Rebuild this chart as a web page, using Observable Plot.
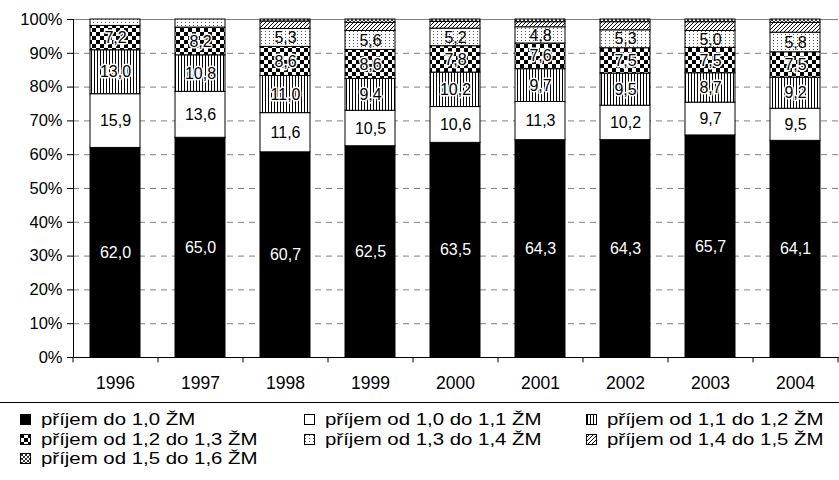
<!DOCTYPE html>
<html>
<head>
<meta charset="utf-8">
<script src="https://cdn.jsdelivr.net/npm/d3@7"></script>
<script src="https://cdn.jsdelivr.net/npm/@observablehq/plot@0.6"></script>
<style>
  body { margin: 0; background: white; font-family: "Liberation Sans", Arial, sans-serif; }
  #chart svg { display: block; }
  #legend { border-top: 1px solid black; width: 839px; height: 76px; position: relative; font-size: 17px; color: black; }
  .item { position: absolute; white-space: nowrap; line-height: 19.5px; height: 19.5px; display: flex; align-items: center; }
  .item svg { margin-right: 10px; flex: none; }
  .item span { display: inline-block; transform: scaleX(1.2); transform-origin: left center; }
</style>
</head>
<body>
<svg width="0" height="0" style="position:absolute">
  <defs>
    <pattern id="p_black" width="4" height="4" patternUnits="userSpaceOnUse"><rect width="4" height="4" fill="black"/></pattern>
    <pattern id="p_white" width="4" height="4" patternUnits="userSpaceOnUse"><rect width="4" height="4" fill="white"/></pattern>
    <pattern id="p_vert" width="3" height="3" patternUnits="userSpaceOnUse"><rect width="3" height="3" fill="white"/><rect x="1" width="1" height="3" fill="black"/></pattern>
    <pattern id="p_check" width="8" height="8" patternUnits="userSpaceOnUse"><rect width="8" height="8" fill="white"/><rect width="4" height="4" fill="black"/><rect x="4" y="4" width="4" height="4" fill="black"/></pattern>
    <pattern id="p_dot" width="4" height="3" patternUnits="userSpaceOnUse"><rect width="4" height="3" fill="white"/><rect x="1" y="1" width="1" height="1" fill="#555"/></pattern>
    <pattern id="p_hatch" width="4" height="4" patternUnits="userSpaceOnUse"><rect width="4" height="4" fill="white"/><path d="M-1,1 l2,-2 M0,4 l4,-4 M3,5 l2,-2" stroke="black" stroke-width="1"/></pattern>
    <pattern id="p_cross" width="4" height="4" patternUnits="userSpaceOnUse"><rect width="4" height="4" fill="white"/><path d="M-1,1 l2,-2 M0,4 l4,-4 M3,5 l2,-2 M-1,3 l2,2 M0,0 l4,4 M3,-1 l2,2" stroke="black" stroke-width="0.8"/></pattern>
  </defs>
</svg>
<div id="chart"></div>
<div id="legend"></div>
<script>
const years = ["1996","1997","1998","1999","2000","2001","2002","2003","2004"];
const seriesNames = [
  "příjem do 1,0 ŽM",
  "příjem od 1,0 do 1,1 ŽM",
  "příjem od 1,1 do 1,2 ŽM",
  "příjem od 1,2 do 1,3 ŽM",
  "příjem od 1,3 do 1,4 ŽM",
  "příjem od 1,4 do 1,5 ŽM",
  "příjem od 1,5 do 1,6 ŽM"
];
const s1 = [62.0, 65.0, 60.7, 62.5, 63.5, 64.3, 64.3, 65.7, 64.1];
const s2 = [15.9, 13.6, 11.6, 10.5, 10.6, 11.3, 10.2, 9.7, 9.5];
const s3 = [13.0, 10.8, 11.0, 9.4, 10.2, 9.7, 9.5, 8.7, 9.2];
const s4 = [7.2, 8.2, 8.6, 8.6, 7.8, 7.6, 7.5, 7.5, 7.5];
const s5 = [1.9, 2.4, 5.3, 5.6, 5.2, 4.8, 5.3, 5.0, 5.8];
const s6 = [0.0, 0.0, 2.2, 2.4, 2.0, 1.5, 2.4, 2.6, 2.9];
const s7 = [0.0, 0.0, 0.6, 1.0, 0.7, 0.8, 0.8, 0.8, 1.0];
const yTicks = [0, 10, 20, 30, 40, 50, 60, 70, 80, 90, 100];
const gridTicks = [10, 20, 30, 40, 50, 60, 70, 80, 90];

const patterns = ["url(#p_black)","url(#p_white)","url(#p_vert)","url(#p_check)","url(#p_dot)","url(#p_hatch)","url(#p_cross)"];
const allSeries = [s1, s2, s3, s4, s5, s6, s7];
const data = [];
allSeries.forEach((arr, si) => arr.forEach((v, yi) => data.push({year: years[yi], series: seriesNames[si], si, value: v})));
const fmt = v => v.toFixed(1).replace(".", ",");

const W = 839, H = 402, ML = 73, MR = 1, MT = 19, MB = 45;
const step = (W - ML - MR) / years.length;

const plot = Plot.plot({
  width: W, height: H,
  marginLeft: ML, marginRight: MR, marginTop: MT, marginBottom: MB,
  style: {fontFamily: '"Liberation Sans", Arial, sans-serif', fontSize: "17px", color: "black", background: "white"},
  x: {domain: years, paddingInner: 0.41, paddingOuter: 0.205, label: null},
  y: {domain: [0, 100], label: null},
  color: {type: "ordinal", domain: seriesNames, range: patterns},
  marks: [
    Plot.ruleY(gridTicks, {stroke: "#808080", strokeDasharray: "6,5"}),
    Plot.ruleY([100], {stroke: "#808080"}),
    Plot.barY(data, Plot.stackY({x: "year", y: "value", z: "series", fill: "series", stroke: "black", strokeWidth: 1})),
    Plot.text(data, Plot.stackY({x: "year", y: "value", z: "series", text: d => d.si === 0 ? fmt(d.value) : "", fill: "white", fontSize: 16})),
    Plot.text(data, Plot.stackY({x: "year", y: "value", z: "series", text: d => (d.si === 1 || d.si === 4) && d.value >= 3 ? fmt(d.value) : "", fill: "black", fontSize: 16})),
    Plot.text(data, Plot.stackY({x: "year", y: "value", z: "series", text: d => (d.si === 2 || d.si === 3) ? fmt(d.value) : "", fill: "black", stroke: "white", strokeWidth: 3, fontSize: 16})),
    Plot.axisY({ticks: yTicks, tickFormat: d => d + "%", tickSize: 6, tickPadding: 5, fontSize: 16.5, label: null}),
    Plot.axisX({tickSize: 0, tickPadding: 19, fontSize: 17.5, label: null}),
    Plot.ruleX(years, {x: d => d, dx: -step / 2, y1: 0, y2: -1.6, stroke: "black"}),
    Plot.ruleX([years[years.length - 1]], {x: d => d, dx: step / 2, y1: 0, y2: -1.6, stroke: "black"}),
    Plot.frame({anchor: "left", stroke: "black"}),
    Plot.frame({anchor: "bottom", stroke: "black"})
  ]
});
document.getElementById("chart").appendChild(plot);

const legendPos = [
  [20, 0], [304, 0], [586, 0],
  [20, 1], [304, 1], [586, 1],
  [20, 2]
];
const legend = document.getElementById("legend");
seriesNames.forEach((name, i) => {
  const [x, row] = legendPos[i];
  const div = document.createElement("div");
  div.className = "item";
  div.style.left = x + "px";
  div.style.top = (7 + row * 19.5) + "px";
  div.innerHTML = `<svg width="11" height="11"><rect x="0.5" y="0.5" width="10" height="10" fill="${patterns[i]}" stroke="black"/></svg><span>${name}</span>`;
  legend.appendChild(div);
});
</script>
</body>
</html>
